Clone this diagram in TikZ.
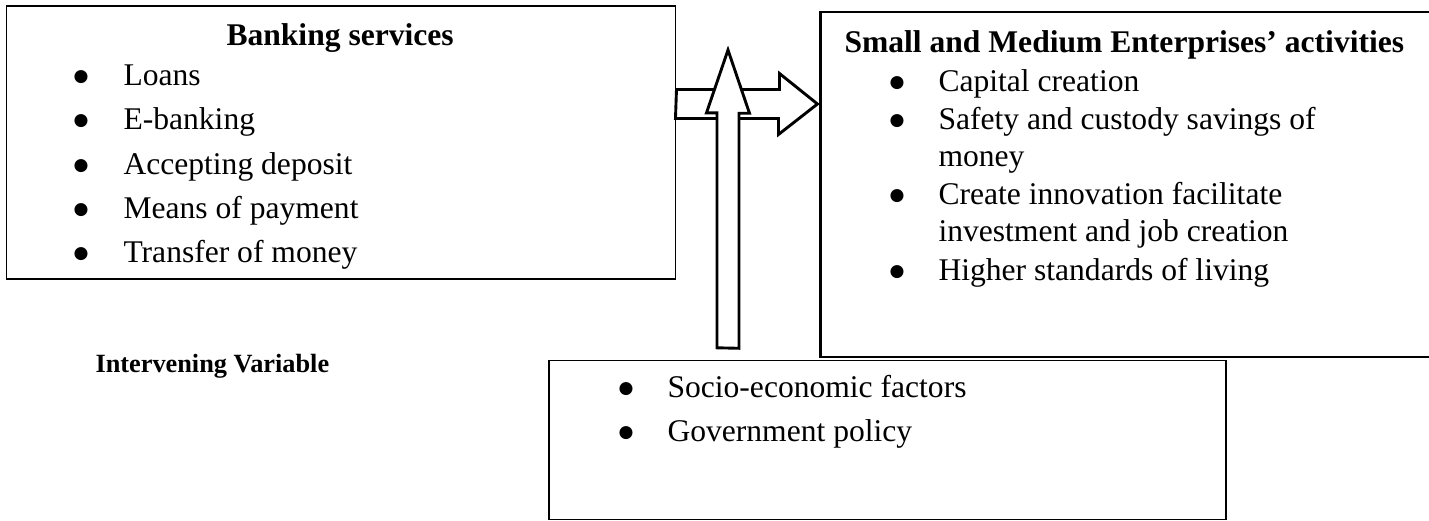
\documentclass[tikz,border=0pt]{standalone}
\usepackage{fontspec}
\setmainfont{Liberation Serif}
\newfontfamily\symfont{DejaVu Sans}
\usetikzlibrary{calc,fit}

% one bulleted line: name, bullet x, text x, baseline y, text
\newcommand\bulletline[5]{%
  \node[dot] (#1-dot) at (#2,#4-8.7) {●};
  \node[body] (#1) at (#3,#4) {#5};}
% continuation line of an item, without bullet
\newcommand\plainline[4]{%
  \node[body] (#1) at (#2,#3) {#4};}

\begin{document}
\begin{tikzpicture}[x=0.38pt,y=-0.38pt,
  box/.style={draw, line width=0.75pt, inner sep=0pt},
  area/.style={inner sep=0pt},
  body/.style={inner sep=0pt, anchor=base west, font=\fontsize{12}{14}\selectfont},
  head/.style={inner sep=0pt, anchor=base west, font=\fontsize{12}{14}\selectfont\bfseries},
  small head/.style={inner sep=0pt, anchor=base west, font=\fontsize{10}{12}\selectfont\bfseries},
  dot/.style={inner sep=0pt, anchor=center, font=\fontsize{6.5}{7}\symfont},
  blockarrow/.style={draw, line width=1.1pt, fill=white, line join=miter}]

\useasboundingbox (0,0) rectangle (1429,521);

% ---- boxes ----
\node[box, fit={(6.5,6) (675.5,279)}] (bank) {};
\node[area, fit={(821,12.7) (1431,356.7)}] (sme) {};
\draw[line width=0.9pt] (sme.north east) -- (sme.north west)
  -- (sme.south west) -- (sme.south east);
\node[box, fit={(549,360.5) (1226,519.5)}] (ivar) {};

% ---- banking services ----
\node[head] (bank-title) at (226,46) {Banking services};
\bulletline{loans}{81}{123}{86}{Loans}
\bulletline{ebank}{81}{123}{130}{E-banking}
\bulletline{deposit}{81}{123}{175}{Accepting deposit}
\bulletline{payment}{81}{123}{219}{Means of payment}
\bulletline{transfer}{81}{123}{263}{Transfer of money}

% ---- SME activities ----
\node[head] (sme-title) at (844,53) {Small and Medium Enterprises’ activities};
\bulletline{capital}{897}{938}{92}{Capital creation}
\bulletline{safety}{897}{938}{129.5}{Safety and custody savings of}
\plainline{safety2}{938}{167}{money}
\bulletline{innov}{897}{938}{204.5}{Create innovation facilitate}
\plainline{innov2}{938}{242}{investment and job creation}
\bulletline{living}{897}{938}{281}{Higher standards of living}

% ---- intervening variable ----
\node[small head] (ivar-label) at (95,373) {Intervening Variable};
\bulletline{socio}{626}{667}{398}{Socio-economic factors}
\bulletline{policy}{626}{667}{442}{Government policy}

% ---- block arrows ----
\coordinate (hTail) at (bank.east |- 0,104);
\coordinate (hTip) at ($(sme.west |- hTail)+(-3,0)$);
\draw[blockarrow] (hTail) ++(0,-14.5) -- ++(103,0) -- ++(0,-16) -- (hTip)
  -- ++(-39,30.5) -- ++(0,-16) -- ++(-103,0) -- cycle;

\coordinate (vTail) at ($(728,0 |- ivar.north)+(0,-11.7)$);
\coordinate (vTip) at (728,50);
\draw[blockarrow] (vTail) ++(-11,0) -- ++(0,-235) -- ++(-10.5,0) -- (vTip)
  -- ++(21.5,63.3) -- ++(-10.5,0) -- ++(0,235) -- cycle;

\end{tikzpicture}
\end{document}
